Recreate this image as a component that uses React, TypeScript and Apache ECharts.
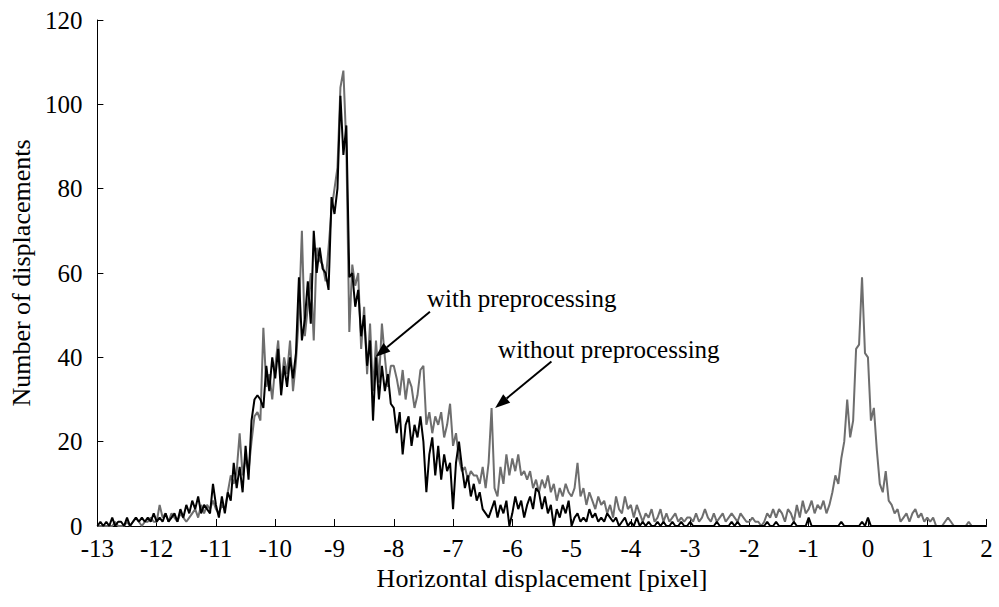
import React, { useEffect, useRef } from "react";
import * as echarts from "echarts";

// Sampling grid of the histogram (bin width 0.05 pixel)
const X_MIN = -13;
const X_STEP = 0.05;

// Tick settings
const X_TICKS = { min: -13, max: 2, interval: 1 };
const Y_TICKS = { min: 0, max: 120, interval: 20 };

// "with preprocessing" (black) — one row per unit, 20 bins each
const withPre: number[] = [
  0, 1, 0, 1, 0, 2, 0, 1, 1, 0, 2, 0, 1, 2, 1, 2, 1, 2, 1, 3,
  1, 2, 1, 3, 1, 2, 3, 1, 4, 2, 5, 3, 6, 4, 7, 3, 5, 4, 3, 10,
  5, 2, 7, 3, 8, 6, 15, 9, 14, 8, 19, 11, 25, 30, 31, 30, 28, 38, 32, 40,
  35, 42, 31, 38, 33, 40, 35, 41, 59, 44, 49, 58, 48, 70, 60, 66, 61, 60, 56, 78,
  74, 80, 102, 88, 95, 59, 60, 52, 56, 45, 50, 38, 44, 25, 40, 30, 38, 32, 36, 29,
  28, 22, 27, 17, 24, 26, 19, 24, 21, 26, 20, 8, 17, 21, 12, 19, 11, 17, 13, 15,
  4, 15, 20, 14, 9, 12, 7, 10, 6, 8, 4, 3, 2, 4, 6, 2, 5, 3, 6, 0,
  3, 7, 4, 6, 2, 5, 7, 4, 9, 8, 4, 7, 3, 5, 0, 4, 2, 5, 3, 6,
  0, 2, 3, 1, 2, 1, 4, 2, 3, 1, 2, 1, 3, 2, 1, 2, 0, 1, 2, 0,
  1, 0, 2, 0, 1, 0, 1, 0, 0, 1, 0, 1, 0, 0, 1, 0, 0, 1, 0, 0,
  1, 0, 0, 0, 0, 0, 0, 0, 0, 1, 0, 0, 0, 0, 1, 0, 1, 0, 0, 0,
  0, 0, 0, 0, 0, 0, 1, 0, 0, 1, 0, 0, 0, 0, 0, 1, 0, 0, 0, 0,
  2, 0, 0, 0, 0, 0, 0, 0, 0, 0, 0, 1, 0, 0, 0, 0, 0, 0, 1, 0,
  2, 0, 0, 0, 0, 0, 0, 0, 0, 0, 0, 0, 0, 0, 0, 0, 0, 0, 0, 0,
  0, 0, 0, 0, 0, 0, 0, 0, 0, 0, 0, 0, 0, 0, 0, 0, 0, 0, 0, 0,
  0,
];

// "without preprocessing" (grey)
const withoutPre: number[] = [
  0, 0, 0, 0, 0, 0, 1, 0, 0, 0, 1, 0, 1, 2, 1, 0, 1, 1, 2, 1,
  1, 5, 2, 3, 1, 3, 2, 1, 3, 2, 1, 2, 3, 4, 2, 5, 3, 5, 4, 6,
  4, 3, 5, 4, 8, 12, 10, 13, 22, 12, 16, 13, 20, 26, 27, 25, 47, 33, 36, 30,
  38, 44, 33, 40, 36, 44, 32, 39, 50, 70, 45, 52, 60, 44, 66, 63, 62, 58, 66, 75,
  80, 85, 104, 108, 90, 46, 62, 57, 60, 42, 52, 36, 48, 32, 44, 34, 48, 40, 33, 38,
  38, 35, 31, 37, 30, 35, 33, 28, 31, 37, 38, 24, 27, 22, 26, 24, 27, 21, 24, 29,
  19, 22, 16, 13, 14, 11, 13, 12, 12, 10, 14, 9, 15, 28, 9, 7, 14, 10, 17, 12,
  16, 13, 17, 12, 13, 11, 13, 9, 11, 8, 11, 9, 12, 8, 10, 6, 9, 7, 10, 8,
  7, 9, 15, 7, 9, 5, 8, 6, 4, 7, 5, 6, 3, 5, 2, 7, 4, 3, 7, 4,
  5, 2, 5, 3, 1, 3, 2, 4, 1, 2, 4, 1, 3, 1, 2, 3, 1, 2, 1, 2,
  2, 1, 3, 1, 2, 4, 2, 1, 3, 1, 2, 3, 1, 2, 3, 2, 1, 3, 2, 1,
  1, 2, 1, 1, 0, 1, 3, 2, 4, 2, 4, 3, 1, 4, 3, 1, 5, 2, 6, 3,
  4, 6, 3, 5, 4, 6, 3, 5, 8, 12, 10, 16, 20, 30, 21, 25, 42, 43, 59, 41,
  40, 25, 28, 18, 10, 8, 13, 6, 5, 3, 4, 1, 2, 3, 1, 3, 4, 2, 3, 1,
  2, 1, 2, 0, 0, 0, 1, 2, 1, 0, 0, 0, 0, 0, 1, 0, 0, 0, 0, 0,
  0,
];

const SERIES_NAMES = ["without preprocessing", "with preprocessing"];
const AXIS_NAMES = { x: "Horizontal displacement [pixel]", y: "Number of displacements" };

// Annotations in data coordinates
const annotations = [
  { text: "with preprocessing", at: [-7.44, 53.9], tail: [-7.39, 50.8], tip: [-8.31, 40.1] },
  { text: "without preprocessing", at: [-6.24, 41.8], tail: [-5.34, 39.0], tip: [-6.29, 28.0] },
];

const FONT = '"Liberation Serif", "Times New Roman", serif';

const toPairs = (vals: number[]) =>
  vals.map((v, i) => [Number((X_MIN + i * X_STEP).toFixed(2)), v]);

export default function App() {
  const ref = useRef<HTMLDivElement>(null);
  useEffect(() => {
    if (!ref.current) return;
    const chart = echarts.init(ref.current, undefined, { renderer: "svg" });
    const axisLabel = { color: "#000", fontFamily: FONT, fontSize: 25 };
    chart.setOption({
      animation: false,
      backgroundColor: "#fff",
      grid: { left: 97, right: 12.5, top: 20, bottom: 81, containLabel: false },
      xAxis: {
        type: "value",
        min: X_TICKS.min,
        max: X_TICKS.max,
        interval: X_TICKS.interval,
        name: AXIS_NAMES.x,
        nameLocation: "middle",
        nameGap: 38,
        nameTextStyle: { color: "#000", fontFamily: FONT, fontSize: 26 },
        axisLine: { show: true, onZero: false, lineStyle: { color: "#000", width: 1 } },
        axisTick: { show: true, inside: true, length: 7, lineStyle: { color: "#000" } },
        axisLabel: { ...axisLabel, margin: 10 },
        splitLine: { show: false },
      },
      yAxis: {
        type: "value",
        min: Y_TICKS.min,
        max: Y_TICKS.max,
        interval: Y_TICKS.interval,
        name: AXIS_NAMES.y,
        nameLocation: "middle",
        nameRotate: 90,
        nameGap: 60,
        nameTextStyle: { color: "#000", fontFamily: FONT, fontSize: 26 },
        axisLine: { show: true, onZero: false, lineStyle: { color: "#000", width: 1 } },
        axisTick: { show: true, inside: true, length: 6, lineStyle: { color: "#000" } },
        axisLabel: { ...axisLabel, margin: 15 },
        splitLine: { show: false },
      },
      series: [
        {
          name: SERIES_NAMES[0],
          type: "line",
          data: toPairs(withoutPre),
          showSymbol: false,
          symbol: "none",
          lineStyle: { color: "#6e6e6e", width: 2 },
          itemStyle: { color: "#6e6e6e" },
          z: 2,
        },
        {
          name: SERIES_NAMES[1],
          type: "line",
          data: toPairs(withPre),
          showSymbol: false,
          symbol: "none",
          lineStyle: { color: "#000", width: 2 },
          itemStyle: { color: "#000" },
          z: 3,
        },
      ],
    });

    const toPx = (p: number[]) => chart.convertToPixel({ gridIndex: 0 }, p) as number[];
    const elements: any[] = [];
    annotations.forEach((a) => {
      const [tx, ty] = toPx(a.at);
      const [x1, y1] = toPx(a.tail);
      const [x2, y2] = toPx(a.tip);
      const dx = x2 - x1, dy = y2 - y1;
      const len = Math.hypot(dx, dy);
      const ux = dx / len, uy = dy / len;
      const headLen = 15, headW = 5.5;
      const bx = x2 - ux * headLen, by = y2 - uy * headLen;
      const nx = -uy, ny = ux;
      elements.push({
        type: "text",
        x: tx,
        y: ty,
        z: 10,
        style: {
          text: a.text,
          font: `25px ${FONT}`,
          fill: "#000",
          align: "left",
          verticalAlign: "middle",
          textAlign: "left",
          textVerticalAlign: "middle",
        },
      });
      elements.push({
        type: "line",
        z: 10,
        shape: { x1, y1, x2: bx, y2: by },
        style: { stroke: "#000", lineWidth: 2 },
      });
      elements.push({
        type: "polygon",
        z: 10,
        shape: {
          points: [
            [x2, y2],
            [bx + nx * headW, by + ny * headW],
            [bx - nx * headW, by - ny * headW],
          ],
        },
        style: { fill: "#000" },
      });
    });
    chart.setOption({ graphic: elements });

    return () => chart.dispose();
  }, []);
  return (
    <div
      ref={ref}
      style={{ position: "fixed", left: 0, top: 0, width: 999, height: 607, background: "#fff" }}
    />
  );
}
